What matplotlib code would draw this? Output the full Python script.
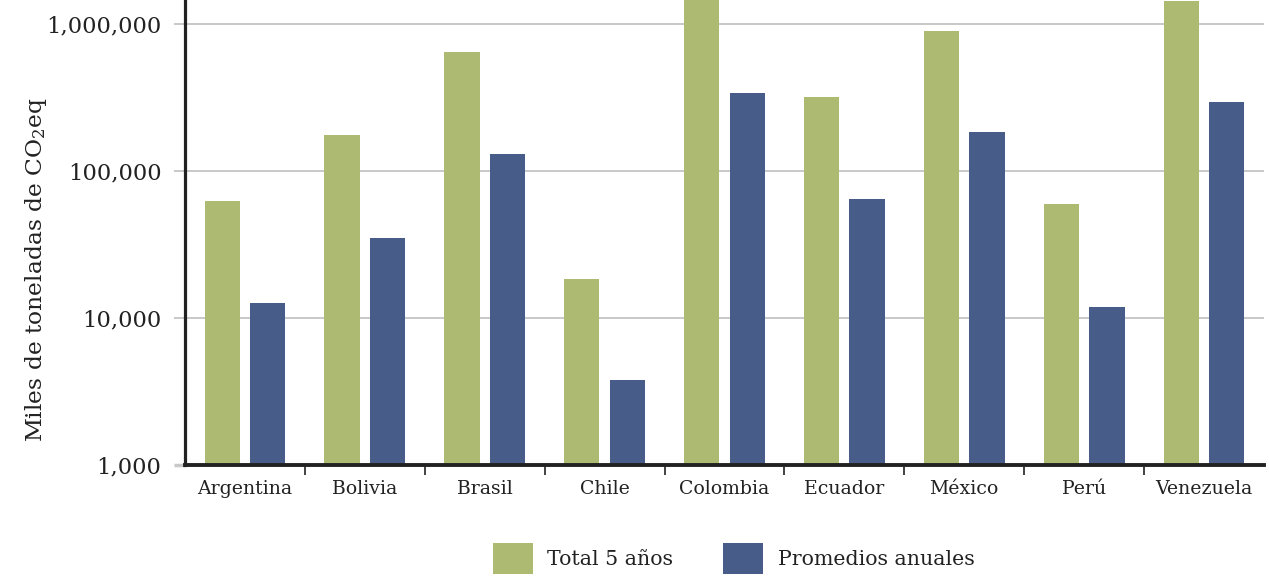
import matplotlib
matplotlib.use("Agg")
import matplotlib.pyplot as plt
import numpy as np
from matplotlib.ticker import FuncFormatter, FixedLocator
from matplotlib.patches import Patch

plt.rcParams['font.family'] = ['DejaVu Serif']
plt.rcParams['mathtext.fontset'] = 'dejavuserif'

paises = ["Argentina", "Bolivia", "Brasil", "Chile", "Colombia",
          "Ecuador", "México", "Perú", "Venezuela"]
total_5_anos = [62500, 176000, 645000, 18400, 1700000,
                318000, 896000, 59700, 1430000]
promedios_anuales = [12650, 35000, 130500, 3790, 339000,
                     64500, 184000, 11900, 294600]

verde = "#adba72"
azul = "#485c89"
texto = "#222222"

fig = plt.figure(figsize=(12.69, 5.76), dpi=100)
ax = fig.add_axes([0.1458, 0.193, 0.8502, 0.807])

x = np.arange(len(paises))
ancho = 0.295
desp = 0.19
ax.bar(x - desp, total_5_anos, ancho, color=verde, zorder=3)
ax.bar(x + desp, promedios_anuales, ancho, color=azul, zorder=3)

ax.set_yscale("log")
ax.set_ylim(1000, 1.456e6)
ax.set_xlim(-0.5, len(paises) - 0.5)

ax.yaxis.set_major_locator(FixedLocator([1e3, 1e4, 1e5, 1e6]))
ax.yaxis.set_minor_locator(FixedLocator([]))
ax.yaxis.set_major_formatter(FuncFormatter(lambda v, p: f"{int(round(v)):,}"))
ax.grid(axis="y", color="#c8c8c8", linewidth=1.4, zorder=0)
ax.tick_params(axis="y", length=8, width=1.4, color="#c8c8c8",
               labelsize=16.3, pad=9, labelcolor=texto)
ticks = ax.yaxis.get_major_ticks()
ticks[0].tick1line.set_color(texto)
ticks[0].tick1line.set_markeredgewidth(2.5)

ax.set_xticks(x)
ax.set_xticklabels(paises)
ax.tick_params(axis="x", length=0, labelsize=13.6, pad=11, labelcolor=texto)
ax.xaxis.set_minor_locator(FixedLocator(np.arange(0.5, len(paises) - 0.5, 1)))
ax.tick_params(axis="x", which="minor", length=7, width=1.2, color=texto)

for s in ("top", "right"):
    ax.spines[s].set_visible(False)
ax.spines["left"].set_linewidth(2.3)
ax.spines["left"].set_color(texto)
ax.spines["bottom"].set_linewidth(2.8)
ax.spines["bottom"].set_color(texto)
ax.spines["left"].set_zorder(4)
ax.spines["bottom"].set_zorder(4)

ax.set_ylabel("Miles de toneladas de CO$_2$eq", fontsize=16.8, color=texto)
ax.yaxis.set_label_coords(-0.126, 0.42)

handles = [Patch(facecolor=verde, label="Total 5 años"),
           Patch(facecolor=azul, label="Promedios anuales")]
fig.legend(handles=handles, loc="center", bbox_to_anchor=(0.578, 0.031),
           ncol=2, frameon=False, fontsize=14.8, handlelength=1.95,
           handleheight=1.95, handletextpad=0.72, columnspacing=2.4,
           labelcolor=texto, borderpad=0)

fig.savefig("out.png", dpi=100)
